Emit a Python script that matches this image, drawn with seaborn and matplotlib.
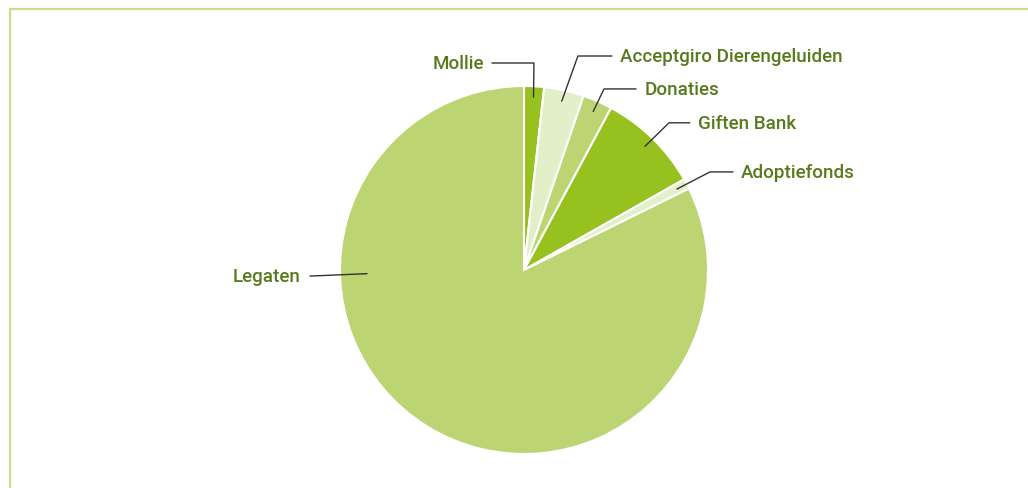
import numpy as np
import seaborn as sns
import matplotlib.pyplot as plt
from matplotlib.lines import Line2D

sns.set_theme(style="white")
plt.rcParams['font.family'] = ['Roboto', 'DejaVu Sans']

# data (percentages, clockwise from the top)
labels = ['Mollie', 'Acceptgiro Dierengeluiden', 'Donaties', 'Giften Bank',
          'Adoptiefonds', 'Legaten']
values = [1.75, 3.5, 2.6, 8.95, 0.9, 82.3]
colors = ['#96c11f', '#e3efc8', '#bcd472', '#96c11f', '#e3efc8', '#bcd472']

text_col = '#587a1c'
line_col = '#333333'

W, H = 1028, 489
fig = plt.figure(figsize=(W / 100, H / 100), dpi=100)
cx, cy, r = 524, 271, 184
ax = fig.add_axes([(cx - r) / W, (H - cy - r) / H, 2 * r / W, 2 * r / H])

wedges, _ = ax.pie(values, colors=colors, startangle=90, counterclock=False,
                   wedgeprops=dict(edgecolor='white', linewidth=1.5))
ax.set_xlim(-1, 1)
ax.set_ylim(-1, 1)
ax.axis('off')

# leader layout: (elbow x, elbow y, end x, side)
layout = {
    'Mollie': (0.054, 1.125, -0.174, 'left'),
    'Acceptgiro Dierengeluiden': (0.293, 1.163, 0.478, 'right'),
    'Donaties': (0.435, 0.984, 0.609, 'right'),
    'Giften Bank': (0.788, 0.80, 0.902, 'right'),
    'Adoptiefonds': (1.011, 0.533, 1.136, 'right'),
}
fs = 13.5

for w, lab in zip(wedges, labels):
    if lab == 'Legaten':
        sx, sy = -0.853, -0.02
        ax.plot([sx, -1.163], [sy, -0.033], color=line_col, lw=1, clip_on=False)
        ax.text(-1.215, -0.033, lab, ha='right', va='center', color=text_col,
                fontsize=fs, fontweight='medium')
        continue
    ang = np.deg2rad((w.theta1 + w.theta2) / 2)
    sx, sy = 0.94 * np.cos(ang), 0.94 * np.sin(ang)
    ex, ey, tx, side = layout[lab]
    ax.plot([sx, ex, tx], [sy, ey, ey], color=line_col, lw=1, clip_on=False)
    off = 0.045 if side == 'right' else -0.045
    ax.text(tx + off, ey, lab, ha='right' if side == 'left' else 'left',
            va='center', color=text_col, fontsize=fs, fontweight='medium')

# thin green frame at top and left
fig.add_artist(Line2D([10 / W, 1], [1 - 10 / H, 1 - 10 / H], color='#c8df8a',
                      lw=1.6, transform=fig.transFigure))
fig.add_artist(Line2D([10 / W, 10 / W], [0, 1 - 10 / H], color='#c8df8a',
                      lw=1.6, transform=fig.transFigure))

fig.savefig('out.png', dpi=100)
